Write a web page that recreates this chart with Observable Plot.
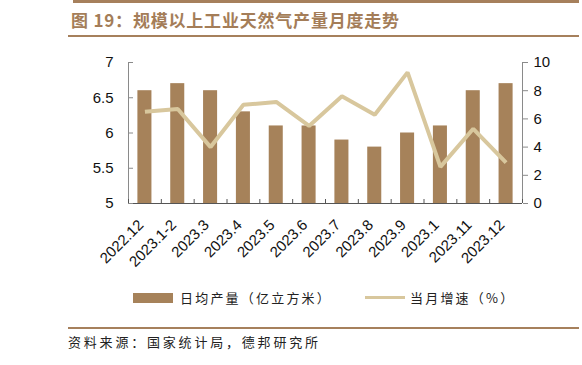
<!DOCTYPE html>
<html>
<head>
<meta charset="utf-8">
<script src="https://cdn.jsdelivr.net/npm/d3@7"></script>
<script src="https://cdn.jsdelivr.net/npm/@observablehq/plot@0.6"></script>
<style>
  html, body { margin: 0; padding: 0; background: #fff; }
  #wrap { position: relative; width: 582px; height: 365px; overflow: hidden; font-family: "Liberation Sans", Arial, sans-serif; }
  .rule { position: absolute; background: #a6805c; height: 2px; }
  #title { position: absolute; left: 71px; top: 8px; font-family: "Noto Sans CJK SC", sans-serif; font-weight: bold; font-size: 17px; color: #a47d58; letter-spacing: 0.8px; line-height: 24px; white-space: nowrap; }
  #chart { position: absolute; left: 0; top: 40px; }
  .leg { position: absolute; font-family: "Noto Sans CJK SC", sans-serif; font-size: 13px; letter-spacing: 2.2px; color: #222; line-height: 16px; white-space: nowrap; }
  #source { position: absolute; left: 68px; top: 334px; font-family: "Noto Sans CJK SC", sans-serif; font-size: 13px; letter-spacing: 2.8px; color: #222; line-height: 16px; white-space: nowrap; }
</style>
</head>
<body>
<div id="wrap">
  <div class="rule" style="left:73px; top:0px; width:506px; height:3px;"></div>
  <div id="title">图 19：规模以上工业天然气产量月度走势</div>
  <div class="rule" style="left:68px; top:35px; width:511px;"></div>
  <div id="chart"></div>
  <div id="legend"></div>
  <div class="rule" style="left:68px; top:327px; width:511px;"></div>
  <div id="source">资料来源：国家统计局，德邦研究所</div>
</div>
<script>
const months = ["2022.12","2023.1-2","2023.3","2023.4","2023.5","2023.6","2023.7","2023.8","2023.9","2023.1","2023.11","2023.12"];
const output = [6.6, 6.7, 6.6, 6.3, 6.1, 6.1, 5.9, 5.8, 6.0, 6.1, 6.6, 6.7];
const growth = [6.5, 6.7, 4.0, 7.0, 7.2, 5.5, 7.6, 6.3, 9.3, 2.6, 5.3, 2.9];
const leftTicks = [5, 5.5, 6, 6.5, 7];
const rightTicks = [0, 2, 4, 6, 8, 10];
const seriesNames = ["日均产量（亿立方米）", "当月增速（%）"];

const barColor = "#a6825a";
const lineColor = "#d8c79d";
const axisColor = "#8a8a8a";

// map right-axis values [0,10] onto left scale [5,7]
const toLeft = v => 5 + v / 5;

const rows = months.map((m, i) => ({i, m, output: output[i], growth: growth[i], g: toLeft(growth[i])}));

const chart = Plot.plot({
  width: 582,
  height: 250,
  marginLeft: 128,
  marginRight: 60,
  marginTop: 22,
  marginBottom: 87,
  style: {fontFamily: "'Liberation Sans', Arial, sans-serif", fontSize: "15px", color: "#111", background: "transparent"},
  x: {type: "linear", domain: [0, months.length], axis: null},
  y: {domain: [5, 7], axis: null},
  marks: [
    Plot.rectY(rows, {x1: d => d.i, x2: d => d.i + 1, y1: 5, y2: "output", fill: barColor, insetLeft: 9.4, insetRight: 9.4}),
    Plot.line(rows, {x: d => d.i + 0.5, y: "g", stroke: lineColor, strokeWidth: 4, strokeLinejoin: "miter", strokeLinecap: "butt"}),
    Plot.ruleX([0], {stroke: axisColor}),
    Plot.ruleX([months.length], {stroke: axisColor}),
    Plot.ruleY([5], {stroke: "#555"}),
    Plot.axisX(d3.range(0, months.length + 1), {tickSize: -4, stroke: "#555", tickFormat: () => ""}),
    Plot.axisX(rows.map(d => d.i + 0.5), {tickSize: 0, tickPadding: 19, dx: -4, tickRotate: -45, tickFormat: d => months[Math.round(d - 0.5)], fontSize: 15, fill: "#111"}),
    Plot.axisY(leftTicks, {anchor: "left", tickSize: -5, tickPadding: 20, stroke: axisColor, tickFormat: d => String(d), fontSize: 15, fill: "#111"}),
    Plot.axisY(rightTicks.map(toLeft), {anchor: "right", tickSize: 5, tickPadding: 6, stroke: axisColor, tickFormat: d => String(Math.round((d - 5) * 5)), fontSize: 15, fill: "#111"})
  ]
});
document.getElementById("chart").appendChild(chart);

const legend = document.getElementById("legend");
legend.innerHTML = `
  <div style="position:absolute; left:133px; top:293px; width:40px; height:10px; background:${barColor};"></div>
  <div class="leg" style="left:180px; top:290px;">${seriesNames[0]}</div>
  <div style="position:absolute; left:365px; top:296px; width:40px; height:3px; background:${lineColor};"></div>
  <div class="leg" style="left:410px; top:290px;">${seriesNames[1]}</div>
`;
</script>
</body>
</html>
